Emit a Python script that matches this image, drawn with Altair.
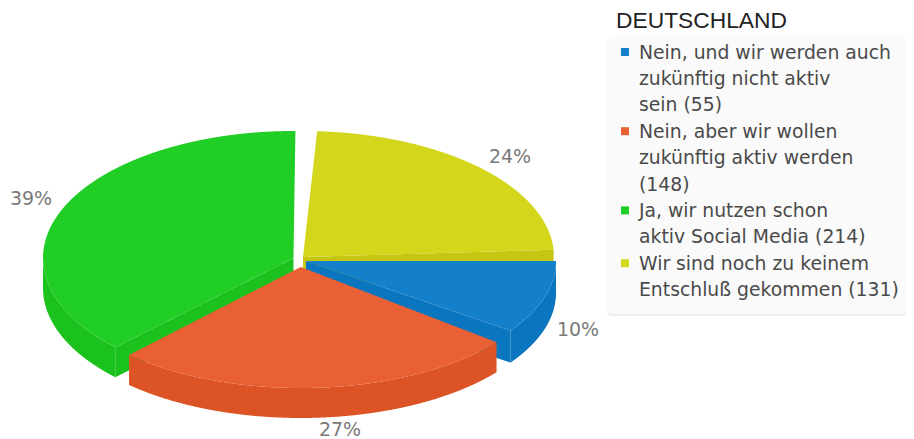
import numpy as np
import pandas as pd
import altair as alt

title = "DEUTSCHLAND"
values = [55, 148, 214, 131]
legend_lines = [
    ["Nein, und wir werden auch", "zukünftig nicht aktiv", "sein (55)"],
    ["Nein, aber wir wollen", "zukünftig aktiv werden", "(148)"],
    ["Ja, wir nutzen schon", "aktiv Social Media (214)"],
    ["Wir sind noch zu keinem", "Entschluß gekommen (131)"],
]
top_colors = ["#1380c9", "#e86033", "#21ce25", "#d4d61c"]
side_colors = ["#0a76c0", "#dc5426", "#1bc11c", "#c6c512"]

# Exploded-slice geometry of the drawing (page pixels): centre, radii, angular nudge, wall height
centers = [(306, 261), (300.7, 267), (293.5, 258), (303, 257)]
radii = [(250, 121), (250, 121), (250.5, 127), (251, 126)]
nudges = [(0, -1), (2.3, 0), (2, -3.5), (-0.7, -3.3)]
depths = [32, 30, 30, 30]
label_pos = [(578, 330), (340, 430), (31, 199), (510, 157)]

shares = np.array(values) / sum(values)
edges = np.concatenate([[0], np.cumsum(shares) * 360])


def ell(i, t):
    cx, cy = centers[i]
    rx, ry = radii[i]
    t = np.radians(t)
    return np.column_stack([cx + rx * np.cos(t), cy + ry * np.sin(t)])


def to_area(poly, n=500):
    """Upper/lower envelope of a vertically convex polygon, for an area mark."""
    poly = np.asarray(poly)
    a, b = poly, np.roll(poly, -1, axis=0)
    xs = np.unique(np.concatenate([np.linspace(poly[:, 0].min(), poly[:, 0].max(), n), poly[:, 0]]))
    rows = []
    for x in xs:
        ys = []
        for (x0, y0), (x1, y1) in zip(a, b):
            if min(x0, x1) <= x <= max(x0, x1):
                if abs(x1 - x0) < 1e-9:
                    ys += [y0, y1]
                else:
                    ys.append(y0 + (y1 - y0) * (x - x0) / (x1 - x0))
        if ys:
            rows.append({"x": x, "y": min(ys), "y2": max(ys)})
    return pd.DataFrame(rows)


X = alt.Scale(domain=[8, 906], range=[0, 898])
Y = alt.Scale(domain=[8, 444], range=[0, 436])


def shape(poly, color):
    return alt.Chart(to_area(poly)).mark_area(color=color, strokeWidth=0, interpolate="linear").encode(
        x=alt.X("x:Q", scale=X, axis=None),
        y=alt.Y("y:Q", scale=Y, axis=None),
        y2="y2:Q",
    )


def slice_layers(i):
    s, e = edges[i] + nudges[i][0], edges[i + 1] + nudges[i][1]
    layers = []
    apex = np.array([centers[i]], dtype=float)
    down = np.array([0, depths[i]])
    # outer wall: only the front half (0..180 degrees) can be seen
    lo, hi = max(s, 0), min(e, 180)
    if hi > lo:
        arc = ell(i, np.linspace(lo, hi, 120))
        layers.append(shape(np.vstack([arc, (arc + down)[::-1]]), side_colors[i]))
    # radial wall that faces the viewer
    if i in (0, 3):  # clockwise-end edge on the right of the pie
        c = ell(i, np.array([e]))
    elif i == 2:
        c = ell(i, np.array([s]))
    else:
        c = None
    if c is not None:
        layers.append(shape(np.vstack([apex, c, c + down, apex + down]), side_colors[i]))
    # top face
    arc = ell(i, np.linspace(s, e, 180))
    layers.append(shape(np.vstack([apex, arc]), top_colors[i]))
    return layers


pie = []
for i in (3, 2, 0, 1):
    pie += slice_layers(i)

labels_df = pd.DataFrame({
    "x": [p[0] for p in label_pos],
    "y": [p[1] for p in label_pos],
    "t": [f"{round(s * 100)}%" for s in shares],
})
pct = alt.Chart(labels_df).mark_text(font="DejaVu Sans", fontSize=19, color="#7a7a7a", align="center", baseline="middle").encode(
    x=alt.X("x:Q", scale=X, axis=None), y=alt.Y("y:Q", scale=Y, axis=None), text="t:N"
)

shadow_df = pd.DataFrame({"x": [607], "x2": [906], "y": [38], "y2": [316]})
panel_df = pd.DataFrame({"x": [607], "x2": [906], "y": [36], "y2": [314]})


def panel(df, color):
    return alt.Chart(df).mark_rect(color=color, cornerRadius=5).encode(
        x=alt.X("x:Q", scale=X, axis=None), x2="x2:Q",
        y=alt.Y("y:Q", scale=Y, axis=None), y2="y2:Q",
    )


rows, marks, k = [], [], 0
for i, lines in enumerate(legend_lines):
    marks.append({"x": 625, "y": 52 + 26.4 * k, "c": top_colors[i]})
    for ln in lines:
        rows.append({"x": 639, "y": 52.5 + 26.4 * k, "t": ln})
        k += 1
legend_text = alt.Chart(pd.DataFrame(rows)).mark_text(
    font="DejaVu Sans", fontSize=18.8, color="#4a4a4a", align="left", baseline="middle"
).encode(x=alt.X("x:Q", scale=X, axis=None), y=alt.Y("y:Q", scale=Y, axis=None), text="t:N")
legend_marks = alt.Chart(pd.DataFrame(marks)).mark_square(size=64, opacity=1).encode(
    x=alt.X("x:Q", scale=X, axis=None), y=alt.Y("y:Q", scale=Y, axis=None),
    color=alt.Color("c:N", scale=None, legend=None),
)
title_mark = alt.Chart(pd.DataFrame({"x": [616], "y": [20.5], "t": [title]})).mark_text(
    font="Liberation Sans", fontSize=22.8, color="#222222", align="left", baseline="middle"
).encode(x=alt.X("x:Q", scale=X, axis=None), y=alt.Y("y:Q", scale=Y, axis=None), text="t:N")

chart = alt.layer(
    *pie, pct, panel(shadow_df, "#eeeeee"), panel(panel_df, "#fafafa"), legend_marks, legend_text, title_mark
).properties(width=898, height=436, padding=0, autosize=alt.AutoSizeParams(type="none")).configure_view(stroke=None)

chart.save("out.html", embed_options={"renderer": "svg", "actions": False})
